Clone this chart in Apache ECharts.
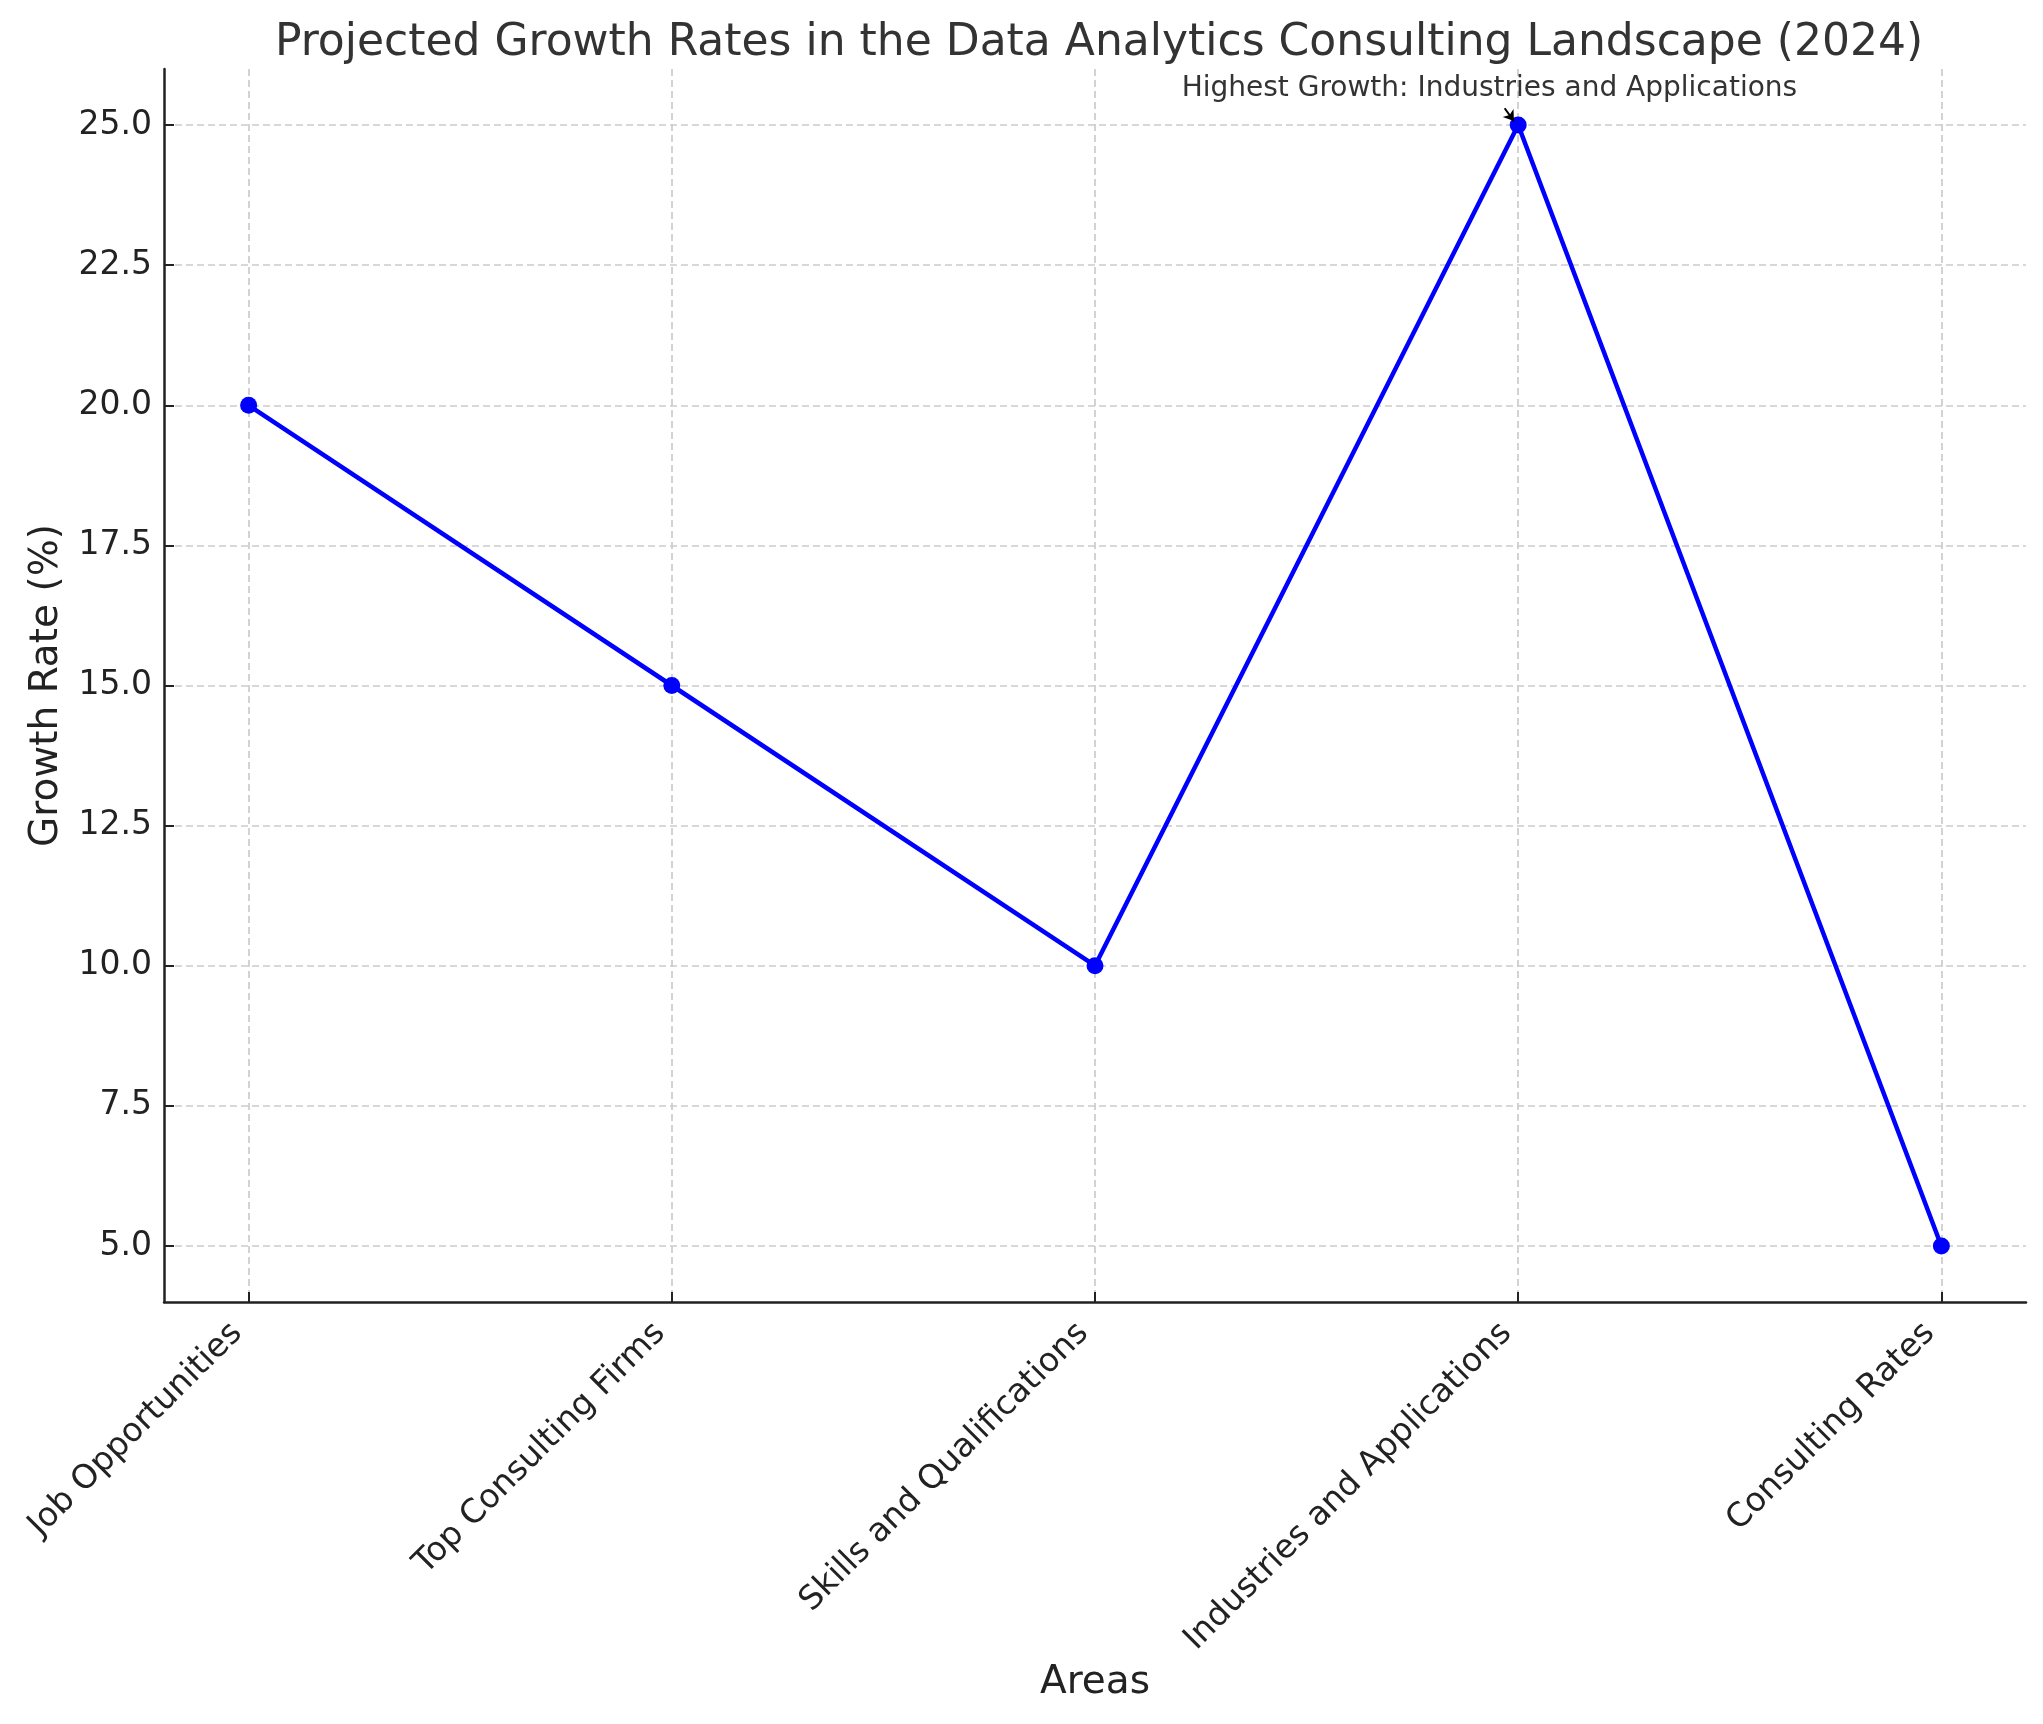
<!DOCTYPE html>
<html lang="en">
  <head>
    <meta charset="UTF-8" />
    <title>Projected Growth Rates in the Data Analytics Consulting Landscape (2024)</title>
    <script src="https://cdn.jsdelivr.net/npm/echarts@6/dist/echarts.min.js"></script>
    <style>
      html, body { margin: 0; padding: 0; background: #fff; }
      #main { width: 2043px; height: 1724px; }
    </style>
  </head>
  <body>
    <div id="main"></div>
    <script>
      // data
      const areas = [
        "Job Opportunities",
        "Top Consulting Firms",
        "Skills and Qualifications",
        "Industries and Applications",
        "Consulting Rates",
      ];
      const growthRates = [20, 15, 10, 25, 5];
      const yTicks = [5, 7.5, 10, 12.5, 15, 17.5, 20, 22.5, 25];

      // annotation on the highest point
      const noteText = "Highest Growth: Industries and Applications";
      const noteAt = [2.932, 25.64];
      const arrowFrom = [2.968, 25.3];
      const arrowTo = [2.99, 25.07];

      const font = "DejaVu Sans";
      const xIdx = areas.map((_, i) => i);

      const chart = echarts.init(document.getElementById("main"));

      const option = {
        animation: false,
        backgroundColor: "#fff",
        title: {
          text: "Projected Growth Rates in the Data Analytics Consulting Landscape (2024)",
          left: 1094,
          textAlign: "center",
          top: 17,
          textStyle: {
            fontFamily: font,
            fontSize: 44,
            fontWeight: "normal",
            color: "#333",
          },
        },
        grid: { left: 164, right: 17, top: 69, bottom: 422 },
        xAxis: {
          type: "value",
          min: -0.2,
          max: 4.2,
          name: "Areas",
          nameLocation: "middle",
          nameGap: 360,
          nameTextStyle: { fontFamily: font, fontSize: 39, color: "#222" },
          axisLine: { show: true, onZero: false, lineStyle: { color: "#222", width: 2.5 } },
          axisTick: {
            show: true,
            inside: true,
            length: 10,
            customValues: xIdx,
            lineStyle: { color: "#222", width: 2 },
          },
          axisLabel: {
            customValues: xIdx,
            rotate: 45,
            margin: 38,
            verticalAlign: "bottom",
            fontFamily: font,
            fontSize: 33,
            color: "#222",
            formatter: (v) => areas[Math.round(v)],
          },
          splitLine: {
            show: true,
            lineStyle: { color: "#cccccc", width: 1.7, type: [7, 4] },
          },
        },
        yAxis: {
          type: "value",
          min: 4,
          max: 26,
          name: "Growth Rate (%)",
          nameLocation: "middle",
          nameRotate: 90,
          nameGap: 98,
          nameTextStyle: { fontFamily: font, fontSize: 39, color: "#222" },
          axisLine: { show: true, onZero: false, lineStyle: { color: "#222", width: 2.5 } },
          axisTick: {
            show: true,
            inside: true,
            length: 10,
            customValues: yTicks,
            lineStyle: { color: "#222", width: 2 },
          },
          axisLabel: {
            customValues: yTicks,
            margin: 12,
            fontFamily: font,
            fontSize: 33,
            color: "#222",
            formatter: (v) => v.toFixed(1),
          },
          splitLine: {
            show: true,
            lineStyle: { color: "#cccccc", width: 1.7, type: [7, 4] },
          },
        },
        series: [
          {
            type: "line",
            data: growthRates.map((v, i) => [i, v]),
            symbol: "circle",
            symbolSize: 17,
            showSymbol: true,
            lineStyle: { color: "#0000ff", width: 4.5 },
            itemStyle: { color: "#0000ff" },
            markLine: {
              silent: true,
              symbol: ["none", "arrow"],
              symbolSize: 10,
              label: { show: false },
              lineStyle: { color: "#000", width: 2, type: "solid" },
              data: [[{ coord: arrowFrom }, { coord: arrowTo }]],
            },
            markPoint: {
              silent: true,
              symbol: "circle",
              symbolSize: 0,
              label: {
                show: true,
                position: "inside",
                formatter: noteText,
                fontFamily: font,
                fontSize: 28,
                color: "#333",
              },
              data: [{ coord: noteAt }],
            },
          },
        ],
      };

      chart.setOption(option);
    </script>
  </body>
</html>
